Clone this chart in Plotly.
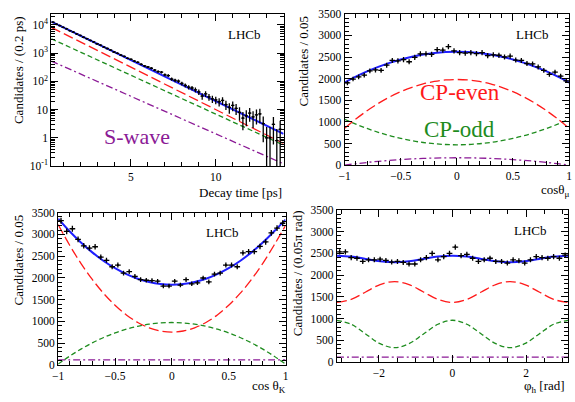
import numpy as np
import plotly.graph_objects as go

W, H = 575, 402
FONT = "Liberation Serif"

# ---------------- data ----------------
# Panel 1: decay time (bins of 0.2 ps starting at 0.3 ps)
time_counts = [12300, 10500, 9400, 8100, 7200, 6200, 5500, 4750, 4200, 3620,
               3220, 2790, 2470, 2130, 1900, 1630, 1450, 1270, 1090, 980,
               850, 760, 650, 600, 520, 470, 400, 350, 320, 290,
               250, 220, 210, 170, 160, 120, 108, 102, 84, 72,
               62, 58, 50, 42, 30, 36, 28, 24, 22, 19,
               21, 15, 12, 14, 11, 8, 5, 6, 7.5, 5.5,
               6.5, 7, 3.2, 1.0, 1.0, 3.0, 0.8, 2.0]
time_curve_t = [0.3, 7.0, 14.0]
time_total = [13000, 147.6, 1.37]
time_even = [8100, 79, 0.63]
time_odd = [3200, 46, 0.55]
time_swave = [520, 8.7, 0.12]

# Panel 2: cos theta_mu (40 bins of 0.05)
cmu_counts = [1900, 1990, 2040, 2080, 2180, 2200, 2190, 2310, 2420, 2410,
              2440, 2390, 2490, 2570, 2570, 2560, 2670, 2660, 2740, 2640,
              2600, 2590, 2600, 2580, 2600, 2530, 2550, 2540, 2500, 2520,
              2430, 2420, 2350, 2340, 2270, 2190, 2100, 2150, 2060, 1950]
cmu_x = [-1.0, -0.9, -0.8, -0.7, -0.6, -0.5, -0.4, -0.3, -0.2, -0.1, 0.0,
         0.1, 0.2, 0.3, 0.4, 0.5, 0.6, 0.7, 0.8, 0.9, 1.0]
cmu_total = [1910, 2045, 2166, 2272, 2364, 2444, 2506, 2556, 2592, 2613, 2620,
             2613, 2592, 2556, 2506, 2444, 2364, 2272, 2166, 2045, 1910]
cmu_even = [850, 1065, 1257, 1426, 1573, 1698, 1799, 1878, 1935, 1969, 1980,
            1969, 1935, 1878, 1799, 1698, 1573, 1426, 1257, 1065, 850]
cmu_odd = [1060, 948, 848, 759, 682, 618, 564, 523, 494, 476, 470,
           476, 494, 523, 564, 618, 682, 759, 848, 948, 1060]
cmu_swave = [0, 32, 61, 87, 109, 128, 143, 155, 163, 168, 170,
             168, 163, 155, 143, 128, 109, 87, 61, 32, 0]

# Panel 3: cos theta_K (40 bins of 0.05)
ck_counts = [3315, 3071, 3130, 2886, 2738, 2686, 2716, 2479, 2405, 2257,
             2294, 2109, 2146, 2035, 1961, 1946, 1939, 1924, 1813, 1813,
             1924, 1835, 1961, 1865, 1887, 1998, 1909, 2087, 2109, 2294,
             2294, 2257, 2575, 2605, 2605, 2723, 2827, 3034, 3145, 3256]
ck_x = cmu_x
ck_total = [3360, 3072, 2815, 2587, 2390, 2224, 2087, 1981, 1906, 1860, 1845,
            1860, 1906, 1981, 2087, 2224, 2390, 2587, 2815, 3072, 3340]
ck_even = [3225, 2756, 2336, 1965, 1644, 1373, 1150, 977, 854, 780, 755,
           780, 854, 977, 1150, 1373, 1644, 1965, 2336, 2756, 3205]
ck_odd = [20, 201, 364, 507, 631, 736, 822, 889, 937, 965, 975,
          965, 937, 889, 822, 736, 631, 507, 364, 201, 20]
ck_swave = [115] * 21

# Panel 4: phi_h (40 bins of 0.05 pi)
phi_counts = [2532, 2532, 2400, 2385, 2312, 2349, 2349, 2363, 2334, 2297,
              2312, 2290, 2253, 2253, 2349, 2400, 2495, 2349, 2422, 2495,
              2642, 2444, 2473, 2385, 2312, 2349, 2385, 2312, 2312, 2275,
              2349, 2327, 2275, 2349, 2422, 2400, 2385, 2422, 2385, 2459]
phi_total = [2445, 2423, 2370, 2317, 2295, 2317, 2370, 2423, 2445,
             2423, 2370, 2317, 2295, 2317, 2370, 2423, 2445]
phi_even = [1370, 1440, 1610, 1780, 1850, 1780, 1610, 1440, 1370,
            1440, 1610, 1780, 1850, 1780, 1610, 1440, 1370]
phi_odd = [960, 868, 645, 422, 330, 422, 645, 868, 960,
           868, 645, 422, 330, 422, 645, 868, 960]
phi_swave = [115] * 17

# ---------------- styles ----------------
C_TOT = "#1f1fff"
C_EVEN = "#ff1a1a"
C_ODD = "#1e8c1e"
C_SW = "#8b1a96"
DASH_EVEN = "10px,4px"
DASH_ODD = "5px,3px"
DASH_SW = "7px,3px,2px,3px"

fig = go.Figure()


def add_curves(xv, tot, ev, od, sw, ax, shape):
    xa, ya = ax
    for yv, col, dash, wdt in [(sw, C_SW, DASH_SW, 1.3), (od, C_ODD, DASH_ODD, 1.3),
                               (ev, C_EVEN, DASH_EVEN, 1.3), (tot, C_TOT, "solid", 2.0)]:
        fig.add_trace(go.Scatter(x=xv, y=yv, mode="lines", xaxis=xa, yaxis=ya,
                                 line=dict(color=col, dash=dash, width=wdt, shape=shape),
                                 showlegend=False, hoverinfo="skip"))


def add_points(xv, yv, halfw, ax, errp, errm=None):
    xa, ya = ax
    ey = dict(type="data", array=errp, color="black", thickness=1.3, width=0, visible=True)
    if errm is not None:
        ey["symmetric"] = False
        ey["arrayminus"] = errm
    fig.add_trace(go.Scatter(x=xv, y=yv, mode="markers", xaxis=xa, yaxis=ya,
                             marker=dict(color="black", size=2),
                             error_x=dict(type="constant", value=halfw, color="black",
                                          thickness=1.3, width=0),
                             error_y=ey, showlegend=False))


# panel 1
tc = np.round(0.4 + 0.2 * np.arange(len(time_counts)), 2)
tcnt = np.array(time_counts, dtype=float)
terr = 1.4 * np.sqrt(tcnt)
terr_m = tcnt - np.maximum(tcnt - terr, 0.02)
add_curves(time_curve_t, time_total, time_even, time_odd, time_swave, ("x", "y"), "linear")
add_points(tc, tcnt, 0.1, ("x", "y"), terr, terr_m)

# panel 2
cx = np.round(-0.975 + 0.05 * np.arange(40), 3)
add_curves(cmu_x, cmu_total, cmu_even, cmu_odd, cmu_swave, ("x2", "y2"), "spline")
add_points(cx, cmu_counts, 0.025, ("x2", "y2"), 1.2 * np.sqrt(cmu_counts))

# panel 3
add_curves(ck_x, ck_total, ck_even, ck_odd, ck_swave, ("x3", "y3"), "spline")
add_points(cx, ck_counts, 0.025, ("x3", "y3"), 1.2 * np.sqrt(ck_counts))

# panel 4
phx = -np.pi + 0.05 * np.pi * (np.arange(40) + 0.5)
phc = np.linspace(-np.pi, np.pi, 17)
add_curves(phc, phi_total, phi_even, phi_odd, phi_swave, ("x4", "y4"), "spline")
add_points(phx, phi_counts, 0.025 * np.pi, ("x4", "y4"), 1.2 * np.sqrt(phi_counts))


# ---------------- layout ----------------
def px(x):
    return x / W


def py(y):
    return 1 - y / H


tickfont = dict(family=FONT, size=11.5, color="black")


def axis(dom, rng, dtick=None, minor_dtick=None, anchor=None, **kw):
    d = dict(domain=dom, range=rng, showline=True, linecolor="black", linewidth=1,
             mirror="ticks", ticks="inside", ticklen=7, tickcolor="black", tickwidth=1,
             showgrid=False, zeroline=False, tickfont=tickfont, anchor=anchor)
    if dtick is not None:
        d["dtick"] = dtick
        d["tick0"] = 0
    if minor_dtick is not None:
        d["minor"] = dict(ticks="inside", ticklen=4, tickcolor="black", dtick=minor_dtick,
                          tick0=0, showgrid=False)
    d.update(kw)
    return d


dom1x = [px(46), px(282)]
dom1y = [py(165), py(8)]
dom2x = [px(344), px(572)]
dom2y = [py(164), py(8)]
dom3x = [px(53), px(284)]
dom3y = [py(370), py(213)]
dom4x = [px(336), px(571)]
dom4y = [py(367), py(210)]

log_major = [0.1, 1, 10, 100, 1000, 10000]
log_text = ["10<sup>-1</sup>", "1", "10", "10<sup>2</sup>", "10<sup>3</sup>", "10<sup>4</sup>"]
log_minor = [k * 10.0 ** d for d in range(-1, 5) for k in range(2, 10)]

fig.update_layout(
    width=W, height=H, margin=dict(l=0, r=0, t=0, b=0),
    paper_bgcolor="white", plot_bgcolor="white",
    font=dict(family=FONT, color="black"),
    xaxis=axis(dom1x, [0.3, 14], 5, 1, anchor="y"),
    yaxis=axis(dom1y, [-1, 4.39], anchor="x", type="log", tickmode="array",
               tickvals=log_major, ticktext=log_text,
               minor=dict(ticks="inside", ticklen=4, tickcolor="black",
                          tickvals=log_minor, showgrid=False)),
    xaxis2=axis(dom2x, [-1, 1], 0.5, 0.1, anchor="y2"),
    yaxis2=axis(dom2y, [0, 3500], 500, 100, anchor="x2"),
    xaxis3=axis(dom3x, [-1, 1], 0.5, 0.1, anchor="y3"),
    yaxis3=axis(dom3y, [0, 3500], 500, 100, anchor="x3"),
    xaxis4=axis(dom4x, [-np.pi, np.pi], 2, 0.5, anchor="y4"),
    yaxis4=axis(dom4y, [0, 3500], 500, 100, anchor="x4"),
)

ann = []


def text(x, y, s, size=13, color="black", xanchor="center", yanchor="middle", angle=0):
    ann.append(dict(x=px(x), y=py(y), xref="paper", yref="paper", text=s, showarrow=False,
                    xanchor=xanchor, yanchor=yanchor, textangle=angle,
                    font=dict(family=FONT, size=size, color=color)))


# LHCb labels
text(242, 29, "LHCb")
text(535, 29, "LHCb")
text(220, 233, "LHCb")
text(533, 231, "LHCb")
# component labels
text(133, 135, "S-wave", size=22, color=C_SW)
text(461, 89, "CP-even", size=23, color=C_EVEN)
text(461, 127, "CP-odd", size=23, color=C_ODD)
# axis titles
text(282, 192, "Decay time [ps]", xanchor="right")
text(575, 190, "cosθ<sub>μ</sub>", xanchor="right")
text(286, 392, "cos θ<sub>K</sub>", xanchor="right")
text(570, 392, "φ<sub>h</sub> [rad]", xanchor="right")
text(12.5, 8, "Candidates / (0.2 ps)", yanchor="top", angle=-90)
text(302, 8, "Candidates / 0.05", yanchor="top", angle=-90)
text(12.5, 213, "Candidates / 0.05", yanchor="top", angle=-90)
text(296, 208, "Candidates / (0.05π rad)", yanchor="top", angle=-90)

fig.update_layout(annotations=ann)
fig.write_html("out.html")
